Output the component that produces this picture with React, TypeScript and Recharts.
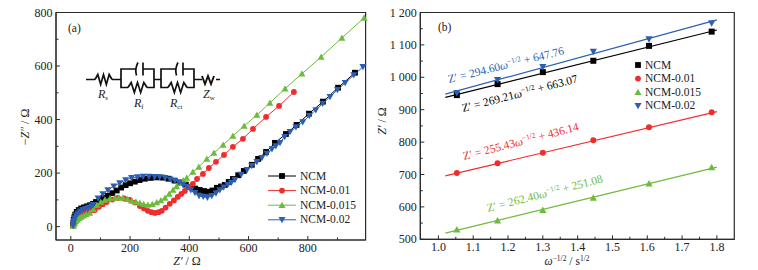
import React from 'react';
import { ComposedChart, Line, XAxis, YAxis, ReferenceArea, Legend } from 'recharts';

type Pt = { x: number; y: number };
type Shape = 'square' | 'circle' | 'up' | 'down';

const FONT = '"Liberation Serif", "Times New Roman", serif';
const AXIS = '#2b2b2b';

const seriesNames = ['NCM', 'NCM-0.01', 'NCM-0.015', 'NCM-0.02'];
const seriesColors = ['#000000', '#f02d2d', '#6cbb3c', '#2b5fb3'];
const seriesShapes: Shape[] = ['square', 'circle', 'up', 'down'];

// (a) Nyquist plot
const ncmX = [8, 9, 10, 12, 15, 20, 27, 35, 45, 55, 65, 75, 85, 97, 110, 125, 140, 155, 170, 185, 200, 216, 232, 250, 270, 290, 310, 330, 350, 370, 388, 405, 420, 435, 450, 463, 478, 493, 507, 520, 533, 547, 565, 584, 611, 632, 659, 689, 726, 762, 804, 851, 902, 959];
const ncmY = [5, 15, 25, 35, 45, 55, 62, 68, 72, 76, 80, 85, 92, 100, 107, 115, 125, 135, 146, 155, 162, 168, 174, 179, 182, 184, 183, 179, 172, 165, 157, 149, 142, 137, 133, 130, 135, 145, 150, 156, 167, 178, 192, 208, 231, 253, 279, 313, 346, 380, 422, 467, 519, 575];
const ncm01X = [8, 9, 11, 14, 18, 24, 31, 40, 50, 60, 70, 81, 95, 108, 121, 140, 159, 180, 199, 216, 233, 247, 260, 272, 284, 296, 307, 320, 334, 348, 361, 373, 385, 398, 412, 426, 446, 466, 490, 517, 547, 581, 615, 659, 703, 753];
const ncm01Y = [4, 12, 20, 28, 36, 43, 49, 53, 57, 60, 61, 62, 74, 84, 92, 101, 107, 105, 100, 90, 77, 68, 59, 54, 51, 54, 59, 71, 85, 98, 111, 122, 133, 147, 160, 178, 197, 219, 242, 268, 298, 328, 365, 410, 451, 503];
const ncm015X = [8, 10, 13, 17, 22, 28, 35, 43, 52, 64, 76, 88, 101, 115, 132, 149, 162, 176, 191, 206, 220, 233, 246, 260, 275, 290, 304, 318, 332, 345, 357, 368, 380, 391, 412, 432, 459, 483, 514, 547, 585, 628, 672, 723, 780, 845, 915, 990];
const ncm015Y = [2, 7, 13, 19, 25, 31, 36, 41, 46, 51, 65, 81, 92, 100, 105, 107, 108, 108, 102, 96, 92, 88, 84, 81, 84, 90, 98, 107, 122, 137, 150, 163, 172, 182, 204, 223, 253, 275, 305, 339, 376, 417, 462, 515, 571, 634, 705, 780];
const ncm02X = [8, 9, 11, 14, 18, 24, 31, 40, 50, 60, 70, 75, 92, 108, 125, 145, 165, 185, 205, 225, 244, 264, 283, 300, 318, 335, 351, 365, 378, 391, 405, 419, 433, 447, 461, 476, 490, 503, 516, 530, 542, 554, 575, 595, 611, 628, 645, 662, 679, 692, 706, 722, 740, 760, 783, 805, 827, 850, 875, 900, 926, 955, 986];
const ncm02Y = [3, 12, 22, 32, 42, 50, 57, 63, 67, 71, 76, 82, 106, 122, 137, 151, 163, 174, 182, 185, 187, 187, 186, 185, 182, 177, 171, 165, 157, 149, 137, 126, 115, 112, 109, 115, 125, 137, 147, 156, 165, 175, 195, 212, 227, 242, 257, 273, 290, 301, 313, 336, 354, 372, 391, 414, 436, 460, 485, 511, 537, 566, 597];

// (b) Z' against omega^-1/2
const omegaX = [1.053, 1.17, 1.3, 1.445, 1.605, 1.785];
const ncmB = [945, 979, 1016, 1051, 1097, 1141];
const ncm01B = [705, 735, 767, 806, 846, 892];
const ncm015B = [530, 558, 590, 628, 672, 722];
const ncm02B = [952, 992, 1032, 1079, 1118, 1167];
const fitX = [1.02, 1.8];
const fitNcm = [938, 1146];
const fitNcm01 = [696, 894];
const fitNcm015 = [519, 723];
const fitNcm02 = [948, 1177];

const leftXTicks = [0, 100, 200, 300, 400, 500, 600, 700, 800, 900];
const leftYTicks = [0, 100, 200, 300, 400, 500, 600, 700, 800];
const rightXTicks = [1, 1.05, 1.1, 1.15, 1.2, 1.25, 1.3, 1.35, 1.4, 1.45, 1.5, 1.55, 1.6, 1.65, 1.7, 1.75, 1.8];
const rightYTicks = [500, 550, 600, 650, 700, 750, 800, 850, 900, 950, 1000, 1050, 1100, 1150, 1200];

const zip = (xs: number[], ys: number[]): Pt[] => xs.map((x, i) => ({ x, y: ys[i] }));

const nyquist = [zip(ncmX, ncmY), zip(ncm01X, ncm01Y), zip(ncm015X, ncm015Y), zip(ncm02X, ncm02Y)];
const warburg = [ncmB, ncm01B, ncm015B, ncm02B].map((ys) => zip(omegaX, ys));
const fits = [fitNcm, fitNcm01, fitNcm015, fitNcm02].map((ys) => zip(fitX, ys));

function Marker({ cx, cy, shape, color, r }: { cx: number; cy: number; shape: Shape; color: string; r: number }) {
  if (shape === 'circle') return <circle cx={cx} cy={cy} r={r} fill={color} />;
  if (shape === 'square') return <rect x={cx - r} y={cy - r} width={r * 2} height={r * 2} fill={color} />;
  const d = r * 1.2;
  const points =
    shape === 'up'
      ? `${cx},${cy - d} ${cx + d},${cy + d * 0.8} ${cx - d},${cy + d * 0.8}`
      : `${cx},${cy + d} ${cx + d},${cy - d * 0.8} ${cx - d},${cy - d * 0.8}`;
  return <polygon points={points} fill={color} />;
}

const dotFor = (shape: Shape, color: string, r: number) => (props: any) => (
  <Marker key={props.index} cx={props.cx} cy={props.cy} shape={shape} color={color} r={r} />
);

// ticks point inward, labels only on the major ones
const xTick = (label: (v: number) => string | null) => (props: any) => {
  const text = label(props.payload.value);
  return (
    <g>
      <line x1={props.x} x2={props.x} y1={props.y} y2={props.y - (text ? 4 : 2.5)} stroke={AXIS} strokeWidth={1} />
      {text && (
        <text x={props.x} y={props.y + 12} textAnchor="middle" fontFamily={FONT} fontSize={12} fill="#222">
          {text}
        </text>
      )}
    </g>
  );
};

const yTick = (label: (v: number) => string | null) => (props: any) => {
  const text = label(props.payload.value);
  return (
    <g>
      <line x1={props.x} x2={props.x + (text ? 4 : 2.5)} y1={props.y} y2={props.y} stroke={AXIS} strokeWidth={1} />
      {text && (
        <text x={props.x - 3.5} y={props.y + 4} textAnchor="end" fontFamily={FONT} fontSize={12} fill="#222">
          {text}
        </text>
      )}
    </g>
  );
};

function LegendBox({ withLine, rowGap, textX, markerX }: { withLine: boolean; rowGap: number; textX: number; markerX: number }) {
  return (
    <svg width={textX + 70} height={rowGap * 4 + 4} style={{ display: 'block' }}>
      {seriesNames.map((name, i) => {
        const y = 8 + i * rowGap;
        return (
          <g key={name}>
            {withLine && <line x1={0} x2={markerX * 2} y1={y} y2={y} stroke={seriesColors[i]} strokeWidth={1} />}
            <Marker cx={markerX} cy={y} shape={seriesShapes[i]} color={seriesColors[i]} r={2.9} />
            <text x={textX} y={y + 3.5} fontFamily={FONT} fontSize={11.5} fill="#222">
              {name}
            </text>
          </g>
        );
      })}
    </svg>
  );
}

function Zigzag({ x, y, w }: { x: number; y: number; w: number }) {
  const s = w / 6;
  return <path d={`M${x} ${y}l${s} -5l${s} 10l${s} -10l${s} 10l${s} -10l${s} 5`} />;
}

function Circuit() {
  const y = 79.5;
  const box = (x: number) => (
    <g>
      <path d={`M${x} ${y}V69H${x + 15}M${x + 22} 69H${x + 33}V87.5H${x + 26}M${x + 7} 87.5H${x}V${y}`} />
      <Zigzag x={x + 7} y={87.5} w={19} />
      <path d={`M${x + 17} 62.5q-3.5 6.5 -1.5 13`} />
      <path d={`M${x + 22} 62.5v13`} />
    </g>
  );
  return (
    <g fill="none" stroke="#111" strokeWidth={1.7}>
      <path d={`M86 ${y}H95M112 ${y}H121M154 ${y}H161M194 ${y}H202M216 ${y}H220`} />
      <Zigzag x={95} y={y} w={17} />
      {box(121)}
      {box(161)}
      <path d={`M202 ${y - 3.5}l3 8l3 -8l3 8l3 -8`} strokeWidth={1.9} />
      <g stroke="none" fill="#222" fontFamily={FONT} fontSize={12} fontStyle="italic">
        <text x={98} y={98}>R<tspan fontSize={7} dy={2} fontStyle="normal">s</tspan></text>
        <text x={134} y={107}>R<tspan fontSize={7} dy={2} fontStyle="normal">f</tspan></text>
        <text x={170} y={107}>R<tspan fontSize={7} dy={2} fontStyle="normal">ct</tspan></text>
        <text x={203} y={98}>Z<tspan fontSize={7} dy={2} fontStyle="normal">w</tspan></text>
      </g>
    </g>
  );
}

function Equation({ x, y, angle, color, slope, rest }: { x: number; y: number; angle: number; color: string; slope: string; rest: string }) {
  return (
    <text transform={`translate(${x} ${y}) rotate(${angle})`} fontFamily={FONT} fontSize={11.5} fill={color}>
      {`Z′ = ${slope}`}
      <tspan fontStyle="italic">ω</tspan>
      <tspan fontSize={7.5} dy={-4}>−1/2</tspan>
      <tspan dy={4}>{` + ${rest}`}</tspan>
    </text>
  );
}

export default function App() {
  return (
    <div style={{ position: 'absolute', left: 0, top: 0, width: 758, height: 270, background: '#fff' }}>
      <div style={{ position: 'absolute', left: 0, top: 0 }}>
        <ComposedChart width={370} height={270} margin={{ top: 12.5, right: 4.4, bottom: 0, left: 0 }}>
          <XAxis
            dataKey="x"
            type="number"
            domain={[-50, 995]}
            ticks={leftXTicks}
            interval={0}
            height={30}
            tickSize={0}
            tickMargin={0}
            stroke={AXIS}
            tick={xTick((v) => (v % 200 === 0 ? String(v) : null))}
            allowDuplicatedCategory={false}
          />
          <YAxis
            dataKey="y"
            type="number"
            domain={[-50, 800]}
            ticks={leftYTicks}
            interval={0}
            width={56}
            tickSize={0}
            tickMargin={0}
            stroke={AXIS}
            tick={yTick((v) => (v % 200 === 0 ? String(v) : null))}
          />
          <ReferenceArea x1={-50} x2={995} y1={-50} y2={800} fill="none" stroke={AXIS} strokeWidth={1.2} />
          {nyquist.map((data, i) => (
            <Line
              key={seriesNames[i]}
              data={data}
              dataKey="y"
              name={seriesNames[i]}
              stroke={seriesColors[i]}
              strokeWidth={1}
              dot={dotFor(seriesShapes[i], seriesColors[i], 2.9)}
              isAnimationActive={false}
            />
          ))}
          <Legend
            layout="vertical"
            align="center"
            verticalAlign="middle"
            wrapperStyle={{ left: 268, top: 168, width: 100, height: 64 }}
            content={() => <LegendBox withLine rowGap={14.6} textX={32} markerX={14} />}
          />
          <text x={68} y={32} fontFamily={FONT} fontSize={11.5} fill="#222">(a)</text>
          <Circuit />
          <text transform="translate(29 127) rotate(-90)" textAnchor="middle" fontFamily={FONT} fontSize={12} fill="#222">
            <tspan>−</tspan><tspan fontStyle="italic">Z″</tspan> / Ω
          </text>
          <text x={187} y={265} textAnchor="middle" fontFamily={FONT} fontSize={12} fill="#222">
            <tspan fontStyle="italic">Z′</tspan> / Ω
          </text>
        </ComposedChart>
      </div>
      <div style={{ position: 'absolute', left: 360, top: 0 }}>
        <ComposedChart width={398} height={270} margin={{ top: 12.5, right: 23.7, bottom: 0, left: 0 }}>
          <XAxis
            dataKey="x"
            type="number"
            domain={[0.948, 1.85]}
            ticks={rightXTicks}
            interval={0}
            height={30.7}
            tickSize={0}
            tickMargin={0}
            stroke={AXIS}
            tick={xTick((v) => (Math.round(v * 100) % 10 === 0 ? v.toFixed(1) : null))}
            allowDuplicatedCategory={false}
          />
          <YAxis
            dataKey="y"
            type="number"
            domain={[500, 1200]}
            ticks={rightYTicks}
            interval={0}
            width={60.3}
            tickSize={0}
            tickMargin={0}
            stroke={AXIS}
            tick={yTick((v) => (v % 100 !== 0 ? null : v >= 1000 ? `1 ${String(v).slice(1)}` : String(v)))}
          />
          <ReferenceArea x1={0.948} x2={1.85} y1={500} y2={1200} fill="none" stroke={AXIS} strokeWidth={1.2} />
          {fits.map((data, i) => (
            <Line
              key={`fit-${seriesNames[i]}`}
              data={data}
              dataKey="y"
              stroke={seriesColors[i]}
              strokeWidth={1.2}
              dot={false}
              legendType="none"
              isAnimationActive={false}
            />
          ))}
          {warburg.map((data, i) => (
            <Line
              key={seriesNames[i]}
              data={data}
              dataKey="y"
              name={seriesNames[i]}
              stroke="none"
              dot={dotFor(seriesShapes[i], seriesColors[i], 3)}
              isAnimationActive={false}
            />
          ))}
          <Legend
            layout="vertical"
            align="center"
            verticalAlign="middle"
            wrapperStyle={{ left: 273, top: 57, width: 100, height: 60 }}
            content={() => <LegendBox withLine={false} rowGap={13.6} textX={12} markerX={5} />}
          />
          <text x={78} y={31} fontFamily={FONT} fontSize={11.5} fill="#222">(b)</text>
          <Equation x={89} y={83} angle={-14} color={seriesColors[3]} slope="294.60" rest="647.76" />
          <Equation x={103} y={112} angle={-14.5} color={seriesColors[0]} slope="269.21" rest="663.07" />
          <Equation x={104} y={160} angle={-14.5} color={seriesColors[1]} slope="255.43" rest="436.14" />
          <Equation x={128} y={212} angle={-14.5} color={seriesColors[2]} slope="262.40" rest="251.08" />
          <text transform="translate(26 121) rotate(-90)" textAnchor="middle" fontFamily={FONT} fontSize={12} fill="#222">
            <tspan fontStyle="italic">Z′</tspan> / Ω
          </text>
          <text x={207} y={265} textAnchor="middle" fontFamily={FONT} fontSize={11.5} fill="#222">
            <tspan fontStyle="italic">ω</tspan><tspan fontSize={7.5} dy={-4}>−1/2</tspan><tspan dy={4}> / s</tspan><tspan fontSize={7.5} dy={-4}>1/2</tspan>
          </text>
        </ComposedChart>
      </div>
    </div>
  );
}
